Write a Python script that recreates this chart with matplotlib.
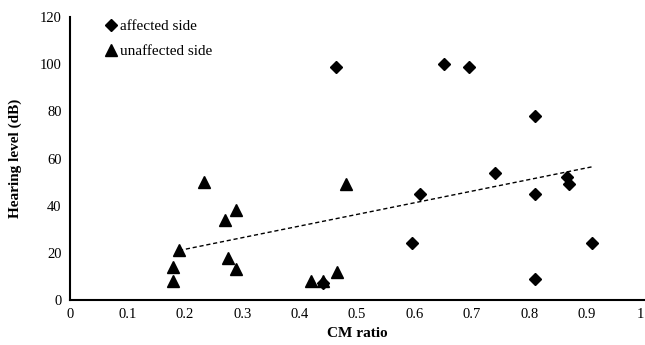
import matplotlib
matplotlib.use("Agg")
import matplotlib.pyplot as plt

# affected side (diamonds)
aff_x = [0.463, 0.652, 0.695, 0.81, 0.74, 0.61, 0.595, 0.81, 0.865, 0.87, 0.91, 0.81, 0.44]
aff_y = [99, 100, 99, 78, 54, 45, 24, 45, 52, 49, 24, 9, 7]

# unaffected side (triangles)
unaff_x = [0.233, 0.27, 0.29, 0.19, 0.18, 0.18, 0.275, 0.29, 0.42, 0.44, 0.465, 0.48]
unaff_y = [50, 34, 38, 21, 14, 8, 18, 13, 8, 8, 12, 49]

# dashed trend line end points
trend_x = [0.19, 0.91]
trend_y = [21, 56.5]

xticks = [0, 0.1, 0.2, 0.3, 0.4, 0.5, 0.6, 0.7, 0.8, 0.9, 1]
xticklabels = ["0", "0.1", "0.2", "0.3", "0.4", "0.5", "0.6", "0.7", "0.8", "0.9", "1"]
yticks = [0, 20, 40, 60, 80, 100, 120]

plt.rcParams['font.family'] = ['Liberation Serif', 'DejaVu Serif']

fig = plt.figure(figsize=(6.45, 3.45), dpi=100)
ax = fig.add_axes([70 / 645, 45 / 345, 574 / 645, 283 / 345])

ax.plot(trend_x, trend_y, color="black", linestyle=(0, (3, 2)), linewidth=1.0)
ax.plot(aff_x, aff_y, linestyle="none", marker="D", markersize=6.5, color="black",
        label="affected side")
ax.plot(unaff_x, unaff_y, linestyle="none", marker="^", markersize=9, color="black",
        label="unaffected side")

ax.set_xlim(0, 1)
ax.set_ylim(0, 120)
ax.set_xticks(xticks)
ax.set_xticklabels(xticklabels)
ax.set_yticks(yticks)
ax.tick_params(length=0, labelsize=10.5, pad=6)
# last label sits at the figure edge, keep it inside
ax.get_xticklabels()[-1].set_horizontalalignment("right")

for s in ["top", "right"]:
    ax.spines[s].set_visible(False)
ax.spines["left"].set_linewidth(1.5)
ax.spines["bottom"].set_linewidth(1.5)

ax.set_xlabel("CM ratio", fontsize=11, fontweight="bold", labelpad=4)
ax.set_ylabel("Hearing level (dB)", fontsize=11, fontweight="bold")
ax.yaxis.set_label_coords(-0.083, 0.5)

ax.legend(loc="upper left", bbox_to_anchor=(0.035, 1.04), frameon=False,
          fontsize=11, handletextpad=0.05, labelspacing=0.75, handlelength=1.0)

fig.savefig("out.png", dpi=100)
